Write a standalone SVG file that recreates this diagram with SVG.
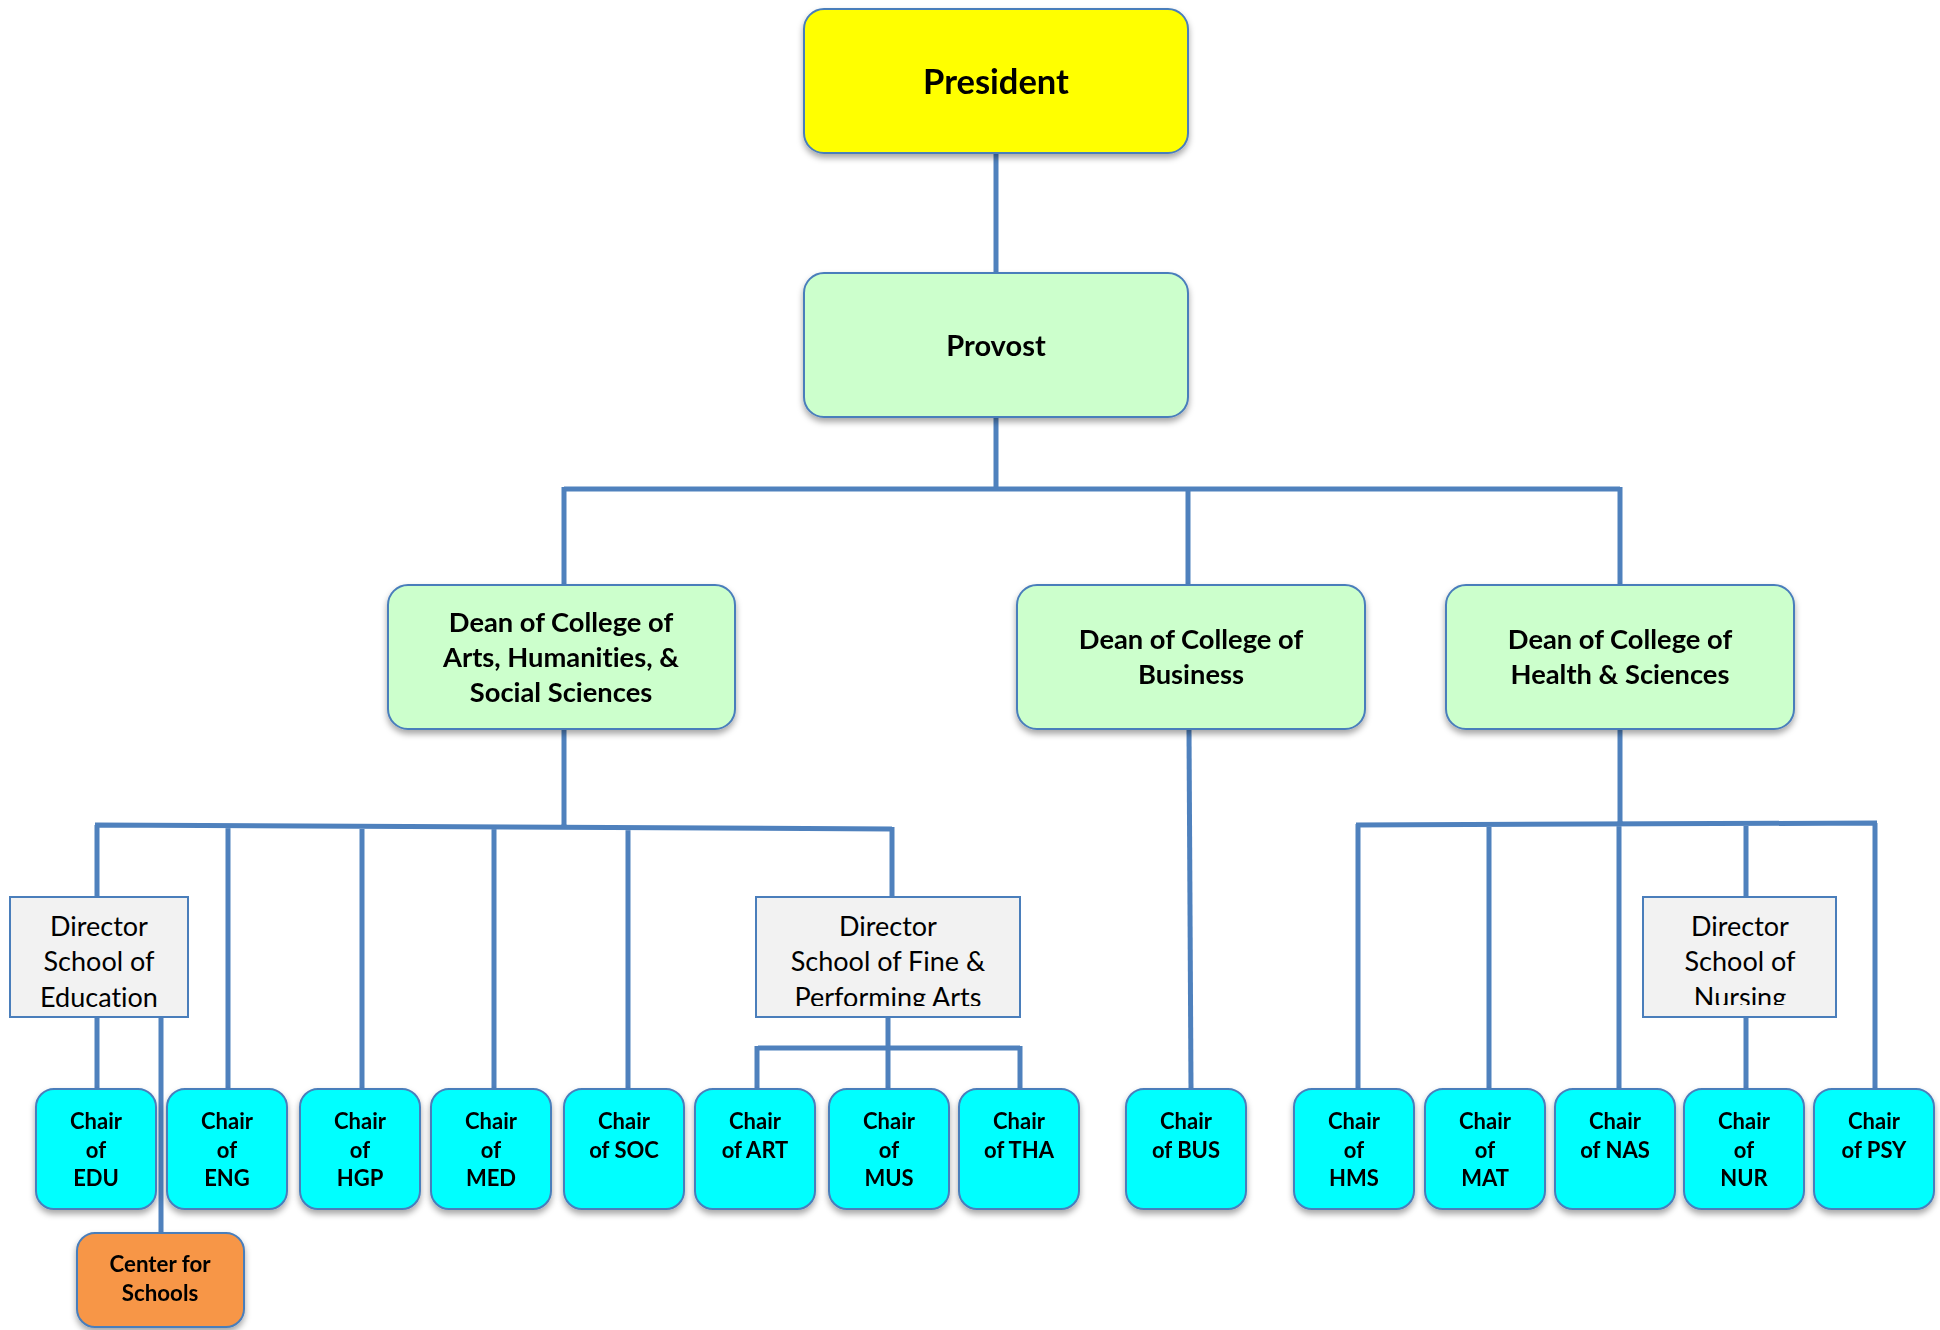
<svg xmlns="http://www.w3.org/2000/svg" width="1940" height="1330" viewBox="0 0 1940 1330">
<style>
.box{stroke:#4A7EBB;stroke-width:2}
.sh{filter:url(#shadow)}
.pres{fill:#FFFF00}
.green{fill:#CCFFCC}
.cyan{fill:#00FFFF}
.orange{fill:#F79646}
.dir{fill:#F2F2F2;stroke:#4A7EBB;stroke-width:2}
.conn{fill:none;stroke:#4F81BD;stroke-width:5;stroke-linecap:butt}
text{font-family:Lato,"Open Sans","Liberation Sans",sans-serif;text-anchor:middle;fill:#000;font-variant-ligatures:none}
.b{font-weight:bold}
.big{font-size:34.5px}
.prov{font-size:29px}
.dean{font-size:27.3px}
.chair{font-size:22px}
.dirt{font-size:27px;font-weight:normal}
.ctr{font-size:22.3px}
</style>
<defs>
<filter id="shadow" x="-10%" y="-10%" width="120%" height="130%">
<feDropShadow dx="0" dy="4" stdDeviation="3" flood-color="#000" flood-opacity="0.35"/>
</filter>
<clipPath id="clipFPA"><rect x="756" y="897" width="264" height="109"/></clipPath>
<clipPath id="clipNUR"><rect x="1643" y="897" width="193" height="108"/></clipPath>
</defs>
<rect width="1940" height="1330" fill="#fff"/>

<g id="connectors">
<path class="conn" d="M996 153V273"/>
<path class="conn" d="M996 417V489M564 489H1620M564 487V585M1188 487V585M1620 487V585"/>
<path class="conn" d="M564 729V827M95 825L892 829M97 825V897M228 826V1089M362 826V1089M494 827V1089M628 827V1089M892 827V897"/>
<path class="conn" d="M97 1017V1089M161 1017V1233"/>
<path class="conn" d="M888 1017V1089M758 1048H1020M757 1046V1089M1020 1046V1089"/>
<path class="conn" d="M1189 729L1191 1089"/>
<path class="conn" d="M1620 729V824M1356 825L1877 823M1358 824V1089M1489 824V1089M1619 824V1089M1746 824V897M1875 823V1089M1746 1017V1089"/>
</g>

<g id="president" class="sh"><rect class="box pres" x="804" y="9" width="384" height="144" rx="20"/><text class="b big" x="996" y="94">President</text></g>
<g id="provost" class="sh"><rect class="box green" x="804" y="273" width="384" height="144" rx="20"/><text class="b prov" x="996" y="356">Provost</text></g>

<g id="dean-ahss" class="sh"><rect class="box green" x="388" y="585" width="347" height="144" rx="20"/>
<text class="b dean" x="561" y="632">Dean of College of</text><text class="b dean" x="561" y="667">Arts, Humanities, &amp;</text><text class="b dean" x="561" y="702">Social Sciences</text></g>
<g id="dean-bus" class="sh"><rect class="box green" x="1017" y="585" width="348" height="144" rx="20"/>
<text class="b dean" x="1191" y="649">Dean of College of</text><text class="b dean" x="1191" y="684">Business</text></g>
<g id="dean-hs" class="sh"><rect class="box green" x="1446" y="585" width="348" height="144" rx="20"/>
<text class="b dean" x="1620" y="649">Dean of College of</text><text class="b dean" x="1620" y="684">Health &amp; Sciences</text></g>

<g id="dir-edu"><rect class="dir" x="10" y="897" width="178" height="120"/>
<text class="dirt" x="99" y="936">Director</text><text class="dirt" x="99" y="971">School of</text><text class="dirt" x="99" y="1007">Education</text></g>
<g id="dir-fpa"><rect class="dir" x="756" y="897" width="264" height="120"/>
<g clip-path="url(#clipFPA)"><text class="dirt" x="888" y="936">Director</text><text class="dirt" x="888" y="971">School of Fine &amp;</text><text class="dirt" x="888" y="1007">Performing Arts</text></g></g>
<g id="dir-nur"><rect class="dir" x="1643" y="897" width="193" height="120"/>
<g clip-path="url(#clipNUR)"><text class="dirt" x="1740" y="936">Director</text><text class="dirt" x="1740" y="971">School of</text><text class="dirt" x="1740" y="1007">Nursing</text></g></g>

<g id="chair-edu" class="sh"><rect class="box cyan" x="36" y="1089" width="120" height="120" rx="18"/><text class="b chair" x="96" y="1129">Chair</text><text class="b chair" x="96" y="1158">of</text><text class="b chair" x="96" y="1186">EDU</text></g>
<g id="chair-eng" class="sh"><rect class="box cyan" x="167" y="1089" width="120" height="120" rx="18"/><text class="b chair" x="227" y="1129">Chair</text><text class="b chair" x="227" y="1158">of</text><text class="b chair" x="227" y="1186">ENG</text></g>
<g id="chair-hgp" class="sh"><rect class="box cyan" x="300" y="1089" width="120" height="120" rx="18"/><text class="b chair" x="360" y="1129">Chair</text><text class="b chair" x="360" y="1158">of</text><text class="b chair" x="360" y="1186">HGP</text></g>
<g id="chair-med" class="sh"><rect class="box cyan" x="431" y="1089" width="120" height="120" rx="18"/><text class="b chair" x="491" y="1129">Chair</text><text class="b chair" x="491" y="1158">of</text><text class="b chair" x="491" y="1186">MED</text></g>
<g id="chair-soc" class="sh"><rect class="box cyan" x="564" y="1089" width="120" height="120" rx="18"/><text class="b chair" x="624" y="1129">Chair</text><text class="b chair" x="624" y="1158">of SOC</text></g>
<g id="chair-art" class="sh"><rect class="box cyan" x="695" y="1089" width="120" height="120" rx="18"/><text class="b chair" x="755" y="1129">Chair</text><text class="b chair" x="755" y="1158">of ART</text></g>
<g id="chair-mus" class="sh"><rect class="box cyan" x="829" y="1089" width="120" height="120" rx="18"/><text class="b chair" x="889" y="1129">Chair</text><text class="b chair" x="889" y="1158">of</text><text class="b chair" x="889" y="1186">MUS</text></g>
<g id="chair-tha" class="sh"><rect class="box cyan" x="959" y="1089" width="120" height="120" rx="18"/><text class="b chair" x="1019" y="1129">Chair</text><text class="b chair" x="1019" y="1158">of THA</text></g>
<g id="chair-bus" class="sh"><rect class="box cyan" x="1126" y="1089" width="120" height="120" rx="18"/><text class="b chair" x="1186" y="1129">Chair</text><text class="b chair" x="1186" y="1158">of BUS</text></g>
<g id="chair-hms" class="sh"><rect class="box cyan" x="1294" y="1089" width="120" height="120" rx="18"/><text class="b chair" x="1354" y="1129">Chair</text><text class="b chair" x="1354" y="1158">of</text><text class="b chair" x="1354" y="1186">HMS</text></g>
<g id="chair-mat" class="sh"><rect class="box cyan" x="1425" y="1089" width="120" height="120" rx="18"/><text class="b chair" x="1485" y="1129">Chair</text><text class="b chair" x="1485" y="1158">of</text><text class="b chair" x="1485" y="1186">MAT</text></g>
<g id="chair-nas" class="sh"><rect class="box cyan" x="1555" y="1089" width="120" height="120" rx="18"/><text class="b chair" x="1615" y="1129">Chair</text><text class="b chair" x="1615" y="1158">of NAS</text></g>
<g id="chair-nur" class="sh"><rect class="box cyan" x="1684" y="1089" width="120" height="120" rx="18"/><text class="b chair" x="1744" y="1129">Chair</text><text class="b chair" x="1744" y="1158">of</text><text class="b chair" x="1744" y="1186">NUR</text></g>
<g id="chair-psy" class="sh"><rect class="box cyan" x="1814" y="1089" width="120" height="120" rx="18"/><text class="b chair" x="1874" y="1129">Chair</text><text class="b chair" x="1874" y="1158">of PSY</text></g>

<g id="center-schools" class="sh"><rect class="box orange" x="77" y="1233" width="167" height="94" rx="18"/><text class="b ctr" x="160" y="1272">Center for</text><text class="b ctr" x="160" y="1301">Schools</text></g>
</svg>
